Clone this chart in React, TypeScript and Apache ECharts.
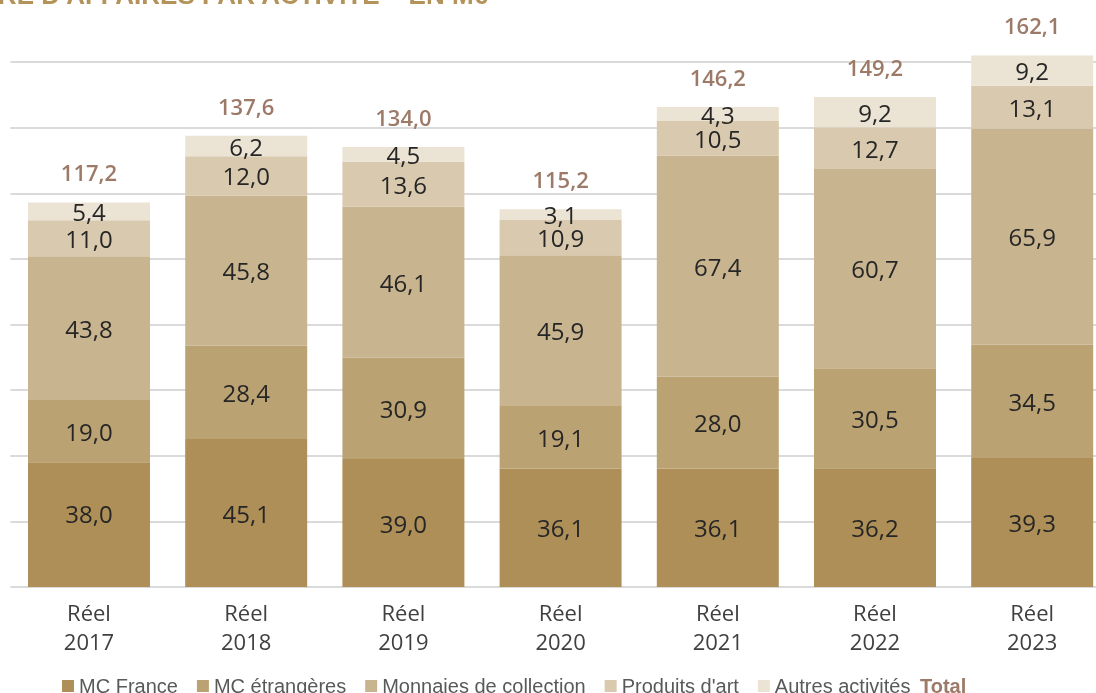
import React, { useEffect, useRef } from "react";
import * as echarts from "echarts";

const years = ["2017", "2018", "2019", "2020", "2021", "2022", "2023"];
const mcFrance = [38.0, 45.1, 39.0, 36.1, 36.1, 36.2, 39.3];
const mcEtrangeres = [19.0, 28.4, 30.9, 19.1, 28.0, 30.5, 34.5];
const monnaies = [43.8, 45.8, 46.1, 45.9, 67.4, 60.7, 65.9];
const produits = [11.0, 12.0, 13.6, 10.9, 10.5, 12.7, 13.1];
const autres = [5.4, 6.2, 4.5, 3.1, 4.3, 9.2, 9.2];
const totals = [117.2, 137.6, 134.0, 115.2, 146.2, 149.2, 162.1];

const seriesNames = ["MC France", "MC étrangères", "Monnaies de collection", "Produits d'art", "Autres activités"];
const seriesData = [mcFrance, mcEtrangeres, monnaies, produits, autres];
const colors = ["#AE8F57", "#BBA273", "#C8B48F", "#D9C9AE", "#EBE3D3"];

const fmt = (v: number) => v.toFixed(1).replace(".", ",");
const NUM_FONT = "'Open Sans', 'Noto Sans', sans-serif";
const LEG_FONT = "'Liberation Sans Narrow', 'Liberation Sans', sans-serif";
const TOTAL_COLOR = "#9C7A67";
const BAR_W = "77.6%";

export default function App() {
  const ref = useRef<HTMLDivElement>(null);
  useEffect(() => {
    const chart = echarts.init(ref.current!, undefined, { renderer: "svg" });
    const series: any[] = seriesData.map((d, i) => ({
      name: seriesNames[i],
      type: "bar",
      stack: "ca",
      data: d.map((v, j) =>
        i === 0 && j === 0 ? { value: v, label: { offset: [0, -11] } } : v
      ),
      barWidth: BAR_W,
      clip: false,
      itemStyle: { color: colors[i] },
      label: {
        show: true,
        position: "inside",
        formatter: (p: any) => fmt(p.value),
        color: "#262626",
        fontSize: 24,
        fontFamily: NUM_FONT,
      },
    }));
    series.push({
      name: "Total",
      type: "bar",
      data: totals,
      barWidth: BAR_W,
      barGap: "-100%",
      clip: false,
      silent: true,
      itemStyle: { color: "rgba(0,0,0,0)" },
      label: {
        show: true,
        position: "top",
        distance: 19,
        formatter: (p: any) => fmt(p.value),
        color: TOTAL_COLOR,
        fontSize: 22,
        fontWeight: 600,
        fontFamily: NUM_FONT,
      },
      z: 1,
    });
    chart.setOption({
      animation: false,
      grid: { left: 10.4, top: 62, width: 1100.4, bottom: 106, containLabel: false },
      legend: {
        data: seriesNames,
        left: 57,
        top: 671,
        itemWidth: 12,
        itemHeight: 12,
        itemGap: 19,
        icon: "rect",
        textStyle: { color: "#595959", fontSize: 20, fontFamily: LEG_FONT },
        selectedMode: false,
      },
      xAxis: {
        type: "category",
        data: years,
        axisLine: { show: false },
        axisTick: { show: false },
        axisLabel: {
          formatter: (v: string) => "Réel\n" + v,
          color: "#404040",
          fontSize: 22,
          lineHeight: 29,
          margin: 10,
          fontFamily: NUM_FONT,
        },
      },
      yAxis: {
        type: "value",
        min: 0,
        max: 160,
        interval: 20,
        axisLabel: { show: false },
        axisLine: { show: false },
        axisTick: { show: false },
        splitLine: { lineStyle: { color: "#DADADA", width: 2 } },
      },
      graphic: [
        {
          type: "text",
          x: 488,
          y: 8,
          style: {
            text: "CHIFFRE D'AFFAIRES PAR ACTIVITÉ – EN M€",
            align: "right",
            verticalAlign: "bottom",
            fill: "#B39359",
            font: "bold 26px 'Liberation Sans', Arial, sans-serif",
          },
        },
        {
          type: "text",
          x: 920,
          y: 686,
          style: {
            text: "Total",
            align: "left",
            verticalAlign: "middle",
            fill: TOTAL_COLOR,
            font: "bold 20px " + LEG_FONT,
          },
        },
      ],
      series,
    });
    return () => chart.dispose();
  }, []);
  return <div ref={ref} style={{ position: "fixed", left: 0, top: 0, width: 1120, height: 693 }} />;
}
